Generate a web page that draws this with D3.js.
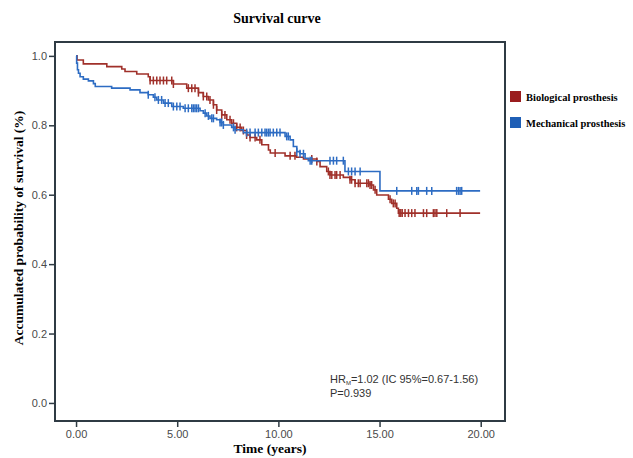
<!DOCTYPE html>
<html>
<head>
<meta charset="utf-8">
<script src="https://cdn.jsdelivr.net/npm/d3@7"></script>
<style>
  body { margin: 0; background: #fff; }
  svg { display: block; }
</style>
</head>
<body>
<script>
// Kaplan-Meier steps (time in years, survival)
const seriesNames = ['Biological prosthesis', 'Mechanical prosthesis']
const seriesColors = ['#a0302a', '#2d6cc3']

const bioTimes = [0, 0.05, 0.36, 1.52, 2.26, 2.42, 3.0, 3.57, 3.66, 4.81, 5.47, 6.05, 6.29, 6.54, 6.79, 6.95, 7.2, 7.45, 7.69, 7.94, 8.19, 8.43, 8.6, 8.93, 9.18, 9.51, 9.6, 10.33, 10.9, 11.24, 11.9, 12.06, 12.39, 12.55, 13.21, 13.54, 13.79, 14.53, 14.7, 14.86, 15.44, 15.6, 15.85, 15.93, 19.97]
const bioSurv = [1.0, 0.988, 0.977, 0.969, 0.962, 0.955, 0.948, 0.940, 0.929, 0.919, 0.907, 0.894, 0.883, 0.873, 0.859, 0.844, 0.830, 0.816, 0.806, 0.794, 0.785, 0.772, 0.765, 0.758, 0.744, 0.729, 0.720, 0.712, 0.708, 0.703, 0.696, 0.681, 0.667, 0.657, 0.650, 0.643, 0.633, 0.628, 0.614, 0.599, 0.587, 0.575, 0.561, 0.547, 0.547]
const bioCensor = [3.66, 3.82, 3.99, 4.15, 4.32, 4.48, 4.73, 4.81, 5.55, 5.72, 5.88, 6.05, 6.29, 6.46, 6.62, 6.79, 6.95, 7.2, 7.36, 7.61, 7.78, 7.94, 8.11, 8.27, 8.43, 8.6, 8.85, 9.09, 9.84, 10.58, 10.82, 11.65, 11.9, 12.47, 12.55, 12.64, 12.8, 12.88, 13.05, 13.54, 13.62, 13.79, 13.95, 14.04, 14.37, 14.45, 14.53, 14.61, 14.78, 15.52, 15.68, 15.77, 15.97, 16.05, 16.12, 16.26, 16.43, 16.59, 16.75, 17.17, 17.33, 17.66, 17.74, 17.83, 18.32, 18.98]

const mechTimes = [0, 0.03, 0.07, 0.12, 0.2, 0.36, 0.61, 0.86, 0.95, 1.76, 2.67, 3.16, 3.57, 3.82, 3.99, 4.32, 4.73, 5.30, 6.13, 6.29, 6.46, 6.62, 6.95, 7.12, 7.28, 7.69, 7.86, 8.27, 10.33, 10.58, 10.74, 10.91, 11.07, 11.32, 11.48, 13.29, 15.02, 19.97]
const mechSurv = [1.0, 0.979, 0.960, 0.950, 0.940, 0.933, 0.928, 0.920, 0.912, 0.907, 0.902, 0.894, 0.888, 0.881, 0.873, 0.864, 0.854, 0.849, 0.842, 0.835, 0.827, 0.820, 0.816, 0.808, 0.801, 0.794, 0.787, 0.779, 0.768, 0.758, 0.739, 0.724, 0.718, 0.705, 0.698, 0.667, 0.611, 0.611]
const mechCensor = [3.57, 3.9, 4.07, 4.23, 4.4, 4.56, 4.81, 4.98, 5.14, 5.39, 5.55, 5.72, 5.8, 5.88, 5.96, 6.05, 6.38, 6.54, 6.71, 6.79, 7.12, 7.2, 7.28, 7.78, 7.86, 8.43, 8.6, 8.85, 9.01, 9.18, 9.34, 9.42, 9.51, 9.59, 9.75, 9.92, 10.08, 10.41, 10.49, 10.91, 11.07, 11.24, 11.57, 11.65, 12.55, 12.72, 12.88, 13.21, 13.46, 13.62, 13.79, 14.04, 15.85, 16.59, 16.84, 16.92, 17.33, 17.58, 18.81, 18.9, 18.98, 19.06]

const xTicks = [0, 5, 10, 15, 20]
const yTicks = [0, 0.2, 0.4, 0.6, 0.8, 1.0]

const chart = () => {
    let width = 633,
        height = 458
    let svg = d3.select('body').append('svg')
        .attr('width', width)
        .attr('height', height)

    let x = d3.scaleLinear().domain([-1.04, 21.2]).range([55, 505])
    let y = d3.scaleLinear().domain([-0.052, 1.04]).range([421, 42])

    // frame
    svg.append('rect')
        .attr('x', x.range()[0]).attr('y', y.range()[1])
        .attr('width', x.range()[1] - x.range()[0])
        .attr('height', y.range()[0] - y.range()[1])
        .attr('fill', 'none')
        .attr('stroke', '#2f3b44')
        .attr('stroke-width', 2)

    // axes
    let xAxis = svg.append('g')
        .attr('transform', `translate(0,${y.range()[0]})`)
        .call(d3.axisBottom(x).tickValues(xTicks).tickSize(6).tickPadding(3).tickFormat(d3.format('.2f')))
    let yAxis = svg.append('g')
        .attr('transform', `translate(${x.range()[0]},0)`)
        .call(d3.axisLeft(y).tickValues(yTicks).tickSize(6).tickPadding(2).tickFormat(d3.format('.1f')))
    ;[xAxis, yAxis].forEach(a => {
        a.select('.domain').remove()
        a.selectAll('line').attr('stroke', '#2f3b44').attr('stroke-width', 1.5)
        a.selectAll('text')
            .attr('fill', '#4a4a4a')
            .style('font-family', 'Liberation Sans, Arial, sans-serif')
            .style('font-size', '11px')
    })

    // curves
    let line = d3.line()
        .curve(d3.curveStepAfter)
        .x(d => x(d[0]))
        .y(d => y(d[1]))

    let series = [
        {times: bioTimes, surv: bioSurv, censor: bioCensor, color: seriesColors[0]},
        {times: mechTimes, surv: mechSurv, censor: mechCensor, color: seriesColors[1]}
    ]
    let bisect = d3.bisector(d => d).right

    series.forEach(s => {
        let pts = s.times.map((t, i) => [t, s.surv[i]])
        svg.append('path')
            .datum(pts)
            .attr('d', line)
            .attr('fill', 'none')
            .attr('stroke', s.color)
            .attr('stroke-width', 1.6)
        svg.append('g').selectAll('line')
            .data(s.censor).enter()
            .append('line')
            .attr('x1', d => x(d)).attr('x2', d => x(d))
            .attr('y1', d => y(s.surv[Math.max(0, bisect(s.times, d) - 1)]) - 4)
            .attr('y2', d => y(s.surv[Math.max(0, bisect(s.times, d) - 1)]) + 4)
            .attr('stroke', s.color)
            .attr('stroke-width', 1.5)
    })

    // title and axis labels
    let serif = 'Liberation Serif, Times New Roman, serif'
    svg.append('text')
        .attr('x', 277).attr('y', 23)
        .attr('text-anchor', 'middle')
        .style('font-family', serif).style('font-weight', 'bold').style('font-size', '14px')
        .text('Survival curve')
    svg.append('text')
        .attr('x', 270).attr('y', 453)
        .attr('text-anchor', 'middle')
        .style('font-family', serif).style('font-weight', 'bold').style('font-size', '13.5px')
        .text('Time (years)')
    svg.append('text')
        .attr('transform', 'translate(23,228) rotate(-90)')
        .attr('text-anchor', 'middle')
        .style('font-family', serif).style('font-weight', 'bold').style('font-size', '13.5px')
        .text('Accumulated probability of survival (%)')

    // legend
    let legend = svg.append('g')
        .selectAll('g')
        .data(seriesNames).enter()
        .append('g')
        .attr('transform', (d, i) => `translate(510,${91 + i * 26})`)
    legend.append('rect')
        .attr('width', 11).attr('height', 11)
        .attr('fill', (d, i) => i === 0 ? '#9a1c1e' : '#1f5fb6')
    legend.append('text')
        .attr('x', 16).attr('y', 9.5)
        .style('font-family', serif).style('font-weight', 'bold').style('font-size', '10.5px')
        .text(d => d)

    // hazard ratio note
    let note = svg.append('g')
        .style('font-family', 'Liberation Sans, Arial, sans-serif')
        .style('font-size', '11px')
        .attr('fill', '#333')
    let hr = note.append('text').attr('x', 330).attr('y', 383)
    hr.append('tspan').text('HR')
    hr.append('tspan').attr('dy', 2).style('font-size', '6px').text('M')
    hr.append('tspan').attr('dy', -2).text('=1.02 (IC 95%=0.67-1.56)')
    note.append('text').attr('x', 330).attr('y', 397).text('P=0.939')
}

chart()
</script>
</body>
</html>
